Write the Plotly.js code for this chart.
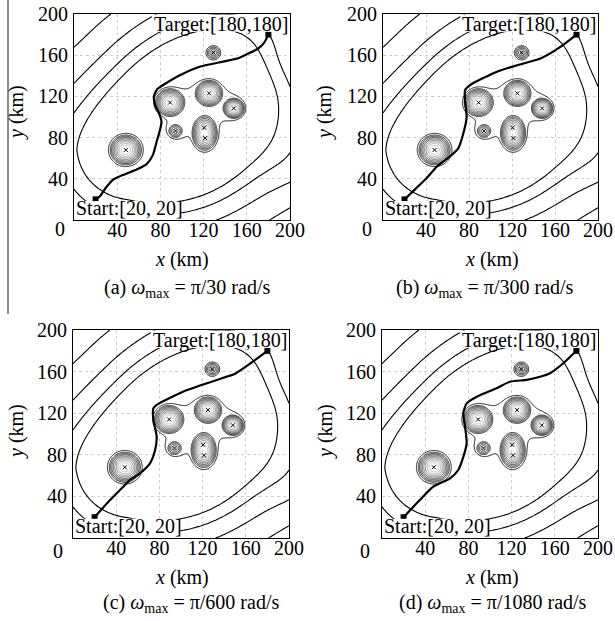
<!DOCTYPE html>
<html><head><meta charset="utf-8">
<script src="https://cdn.plot.ly/plotly-3.0.1.min.js"></script>
<style>html,body{margin:0;padding:0;background:#fff}</style>
</head><body><div id="chart" style="width:615px;height:621px"></div>
<script>
// ---------- data ----------
const axisTicks = [40, 80, 120, 160, 200];
const panelLetters = ['(a)', '(b)', '(c)', '(d)'];
const omegaDenoms = ['30', '300', '600', '1080'];
const startPt = [20, 20];
const targetPt = [180, 180];

// threat obstacles (centres, outer radii in km, relative strength)
const obsX   = [48, 89, 125, 148, 94, 121, 129];
const obsY   = [68, 114, 123, 108.4, 86.4, 84.5, 162.4];
const obsRx  = [15.5, 14.5, 13.5, 10.5, 7, 12.5, 6.5];
const obsRy  = [15.5, 14.5, 13.5, 10.5, 7, 18, 6.5];
const obsAmp = [1, 1, 1, 1, 0.5, 1, 0.45];
// threat centre markers
const markX = [48, 89, 125, 148, 94, 120.5, 121.3, 129];
const markY = [68, 114, 123, 108.4, 86.4, 89.6, 79.5, 162.4];

// background field parameters
const bgS0 = 199, bgK = 0.69, bgU0 = 6, bgBend = 23;
const bgBumpX = [210, 185], bgBumpY = [60, 150], bgBumpA = [-1.3, 1.1], bgBumpS = [28, 22];
const bgLevels = {start: -9.90, end: -5.70, size: 1.38};
const obsLevels = {start: 0.035, end: 0.915, size: 0.11};
const haloAmp = 0.07, haloWidth = 1.25;

// paths (km)
const pathAX = [20, 24, 30, 36, 46, 58, 67, 73, 76.5, 79.5, 81, 79, 75, 74, 77, 84, 99, 117, 139, 152, 160, 170, 176, 180];
const pathAY = [20, 23, 32, 39, 44, 49, 54, 63, 76, 87, 95, 103, 112, 120, 127, 132, 141, 149, 154, 157, 161, 166, 172, 180];
const pathBX = [20, 30, 40.5, 50, 62, 70, 74.7, 77.8, 76.3, 76.3, 81, 106, 130.5, 147, 165, 180];
const pathBY = [20, 30, 40.5, 51.7, 61.5, 69.6, 84, 100, 116, 126, 131, 144, 152, 157, 168, 180];
const pathCX = [20, 33, 46.6, 52.8, 62, 71.3, 76, 77.5, 74.4, 74.4, 77.5, 105, 142, 150, 165, 180];
const pathCY = [20, 35, 49.3, 55.8, 62.2, 71.8, 84.6, 97.4, 113.5, 124.7, 128, 142, 155, 158, 168.5, 180];
const pathDX = [20, 35, 47.5, 63, 70.6, 75.3, 78.4, 76.9, 75.3, 78.4, 87.7, 106, 118.5, 134, 146.3, 155.5, 167.9, 180];
const pathDY = [20, 36.5, 49.3, 57.4, 65.4, 78, 91, 107, 120, 129.5, 135.9, 144, 150.3, 152, 155, 158.4, 168, 180];
const pathsX = [pathAX, pathBX, pathCX, pathDX];
const pathsY = [pathAY, pathBY, pathCY, pathDY];

// ---------- field grids ----------
const grid = [];
for (let i = 0; i <= 400; i++) grid.push(i / 2);
function obstacleField(x, y) {
  let z = 0;
  for (let k = 0; k < obsX.length; k++) {
    const dx = (x - obsX[k]) / obsRx[k], dy = (y - obsY[k]) / obsRy[k];
    const r2 = dx * dx + dy * dy;
    const r = Math.sqrt(r2);
    z += obsAmp[k] * Math.max(0, 1 - Math.pow(r, 1.5)) + haloAmp * Math.exp(-r2 / (haloWidth * haloWidth));
  }
  return z;
}
function bgField(x, y) {
  const s = x + y, u = x - y;
  const c = Math.min(1, Math.max(0, (bgS0 + 1 - s) / 130));
  const u0 = bgU0 - bgBend * c * c;
  const du = u - u0, ds = bgK * (s - bgS0);
  let z = -1000 / Math.max(1, Math.sqrt(du * du + ds * ds));
  for (let k = 0; k < bgBumpX.length; k++) {
    const ex = x - bgBumpX[k], ey = y - bgBumpY[k];
    z += bgBumpA[k] * Math.exp(-(ex * ex + ey * ey) / (2 * bgBumpS[k] * bgBumpS[k]));
  }
  return z;
}
const zObs = grid.map(y => grid.map(x => obstacleField(x, y)));
const gridBg = [];
for (let i = 0; i <= 200; i += 2) gridBg.push(i);
const zBg = gridBg.map(y => gridBg.map(x => bgField(x, y)));

// ---------- layout ----------
const W = 615, H = 621;
const xDomains = [[74 / W, 290 / W], [383 / W, 598 / W], [73 / W, 289 / W], [382 / W, 598 / W]];
const yDomains = [[1 - 220 / H, 1 - 14 / H], [1 - 220 / H, 1 - 14 / H], [1 - 538 / H, 1 - 330 / H], [1 - 538 / H, 1 - 330 / H]];
const serif = '"Liberation Serif", "DejaVu Serif", serif';

const traces = [];
const layout = {
  width: W, height: H, margin: {l: 0, r: 0, t: 0, b: 0},
  paper_bgcolor: '#fff', plot_bgcolor: '#fff', showlegend: false,
  font: {family: serif, size: 20, color: '#000'},
  annotations: [], shapes: []
};

const zeroPos = [[60, 229], [367, 229], [58, 551], [365, 551]];
const xTitlePos = [[182, 259], [492, 259], [182, 577], [492, 577]];
const yTitlePos = [[16, 113], [324, 113], [16, 432], [325, 432]];
const capPos = [[187, 288], [485, 288], [191, 603], [493, 603]];

for (let p = 0; p < 4; p++) {
  const sfx = p === 0 ? '' : String(p + 1);
  const xa = 'x' + sfx, ya = 'y' + sfx;
  layout['xaxis' + sfx] = {
    domain: xDomains[p], anchor: ya, range: [0, 200], tickvals: axisTicks,
    showgrid: true, gridcolor: '#cfcfcf', griddash: 'dot', gridwidth: 1,
    zeroline: false, showline: true, linecolor: '#000', linewidth: 1, mirror: true,
    ticks: '', ticklabelstandoff: -8, tickfont: {family: serif, size: 20, color: '#000'}, fixedrange: true
  };
  layout['yaxis' + sfx] = {
    domain: yDomains[p], anchor: xa, range: [0, 200], tickvals: axisTicks,
    showgrid: true, gridcolor: '#cfcfcf', griddash: 'dot', gridwidth: 1,
    zeroline: false, showline: true, linecolor: '#000', linewidth: 1, mirror: true,
    ticks: '', ticklabelstandoff: 1, tickfont: {family: serif, size: 20, color: '#000'}, fixedrange: true
  };
  traces.push({
    type: 'contour', x: gridBg, y: gridBg, z: zBg, xaxis: xa, yaxis: ya,
    autocontour: false, contours: {coloring: 'lines', start: bgLevels.start, end: bgLevels.end, size: bgLevels.size},
    colorscale: [[0, '#000'], [1, '#000']], showscale: false, line: {width: 1.1, smoothing: 1}, hoverinfo: 'skip'
  });
  traces.push({
    type: 'contour', x: grid, y: grid, z: zObs, xaxis: xa, yaxis: ya,
    autocontour: false, contours: {coloring: 'lines', start: obsLevels.start, end: obsLevels.end, size: obsLevels.size},
    zauto: false, zmin: obsLevels.start, zmax: obsLevels.end,
    colorscale: [[0, '#000'], [0.4, '#303030'], [1, '#bdbdbd']], showscale: false, line: {width: 0.9, smoothing: 1}, hoverinfo: 'skip'
  });
  traces.push({
    type: 'scatter', mode: 'markers', x: markX, y: markY, xaxis: xa, yaxis: ya,
    marker: {symbol: 'x-thin', size: 4, line: {width: 1, color: '#000'}}, hoverinfo: 'skip'
  });
  traces.push({
    type: 'scatter', mode: 'lines', x: pathsX[p], y: pathsY[p], xaxis: xa, yaxis: ya,
    line: {color: '#000', width: 2.2, shape: 'spline', smoothing: 0.6}, hoverinfo: 'skip'
  });
  traces.push({
    type: 'scatter', mode: 'markers', x: [startPt[0], targetPt[0]], y: [startPt[1], targetPt[1]], xaxis: xa, yaxis: ya,
    marker: {symbol: 'square', size: 6, color: '#000'}, hoverinfo: 'skip'
  });
  layout.shapes.push(
    {type: 'rect', xref: xa, yref: ya, x0: 72, x1: 199.5, y0: 182.8, y1: 199.5, layer: 'above',
     fillcolor: '#fff', line: {width: 0}},
    {type: 'rect', xref: xa, yref: ya, x0: 0.5, x1: 99, y0: 0.5, y1: 18.5, layer: 'above',
     fillcolor: '#fff', line: {width: 0}}
  );
  layout.annotations.push(
    {xref: xa, yref: ya, x: 200, y: 200, xanchor: 'right', yanchor: 'top', xshift: -1, yshift: 2,
     text: 'Target:[180,180]', showarrow: false, borderpad: 0, font: {family: serif, size: 20, color: '#000'}},
    {xref: xa, yref: ya, x: 0, y: 0, xanchor: 'left', yanchor: 'bottom', xshift: 1, yshift: 0,
     text: 'Start:[20, 20]', showarrow: false, borderpad: 0, font: {family: serif, size: 20, color: '#000'}},
    {xref: 'paper', yref: 'paper', x: zeroPos[p][0] / W, y: 1 - zeroPos[p][1] / H, xanchor: 'center', yanchor: 'middle',
     text: '0', showarrow: false, font: {family: serif, size: 20, color: '#000'}},
    {xref: 'paper', yref: 'paper', x: xTitlePos[p][0] / W, y: 1 - xTitlePos[p][1] / H, xanchor: 'center', yanchor: 'middle',
     text: '<i>x</i> (km)', showarrow: false, font: {family: serif, size: 20, color: '#000'}},
    {xref: 'paper', yref: 'paper', x: yTitlePos[p][0] / W, y: 1 - yTitlePos[p][1] / H, xanchor: 'center', yanchor: 'middle',
     text: '<i>y</i> (km)', textangle: -90, showarrow: false, font: {family: serif, size: 20, color: '#000'}},
    {xref: 'paper', yref: 'paper', x: capPos[p][0] / W, y: 1 - capPos[p][1] / H, xanchor: 'center', yanchor: 'middle',
     text: panelLetters[p] + ' <i>ω</i><sub>max</sub> = π/' + omegaDenoms[p] + ' rad/s', showarrow: false,
     font: {family: serif, size: 20, color: '#000'}}
  );
}
layout.shapes.push({type: 'line', xref: 'paper', yref: 'paper', x0: 8 / W, x1: 8 / W, y0: 1, y1: 1 - 314 / H,
  line: {color: '#8a8a8a', width: 2}});

Plotly.newPlot('chart', traces, layout, {staticPlot: true, displayModeBar: false});
</script></body></html>
